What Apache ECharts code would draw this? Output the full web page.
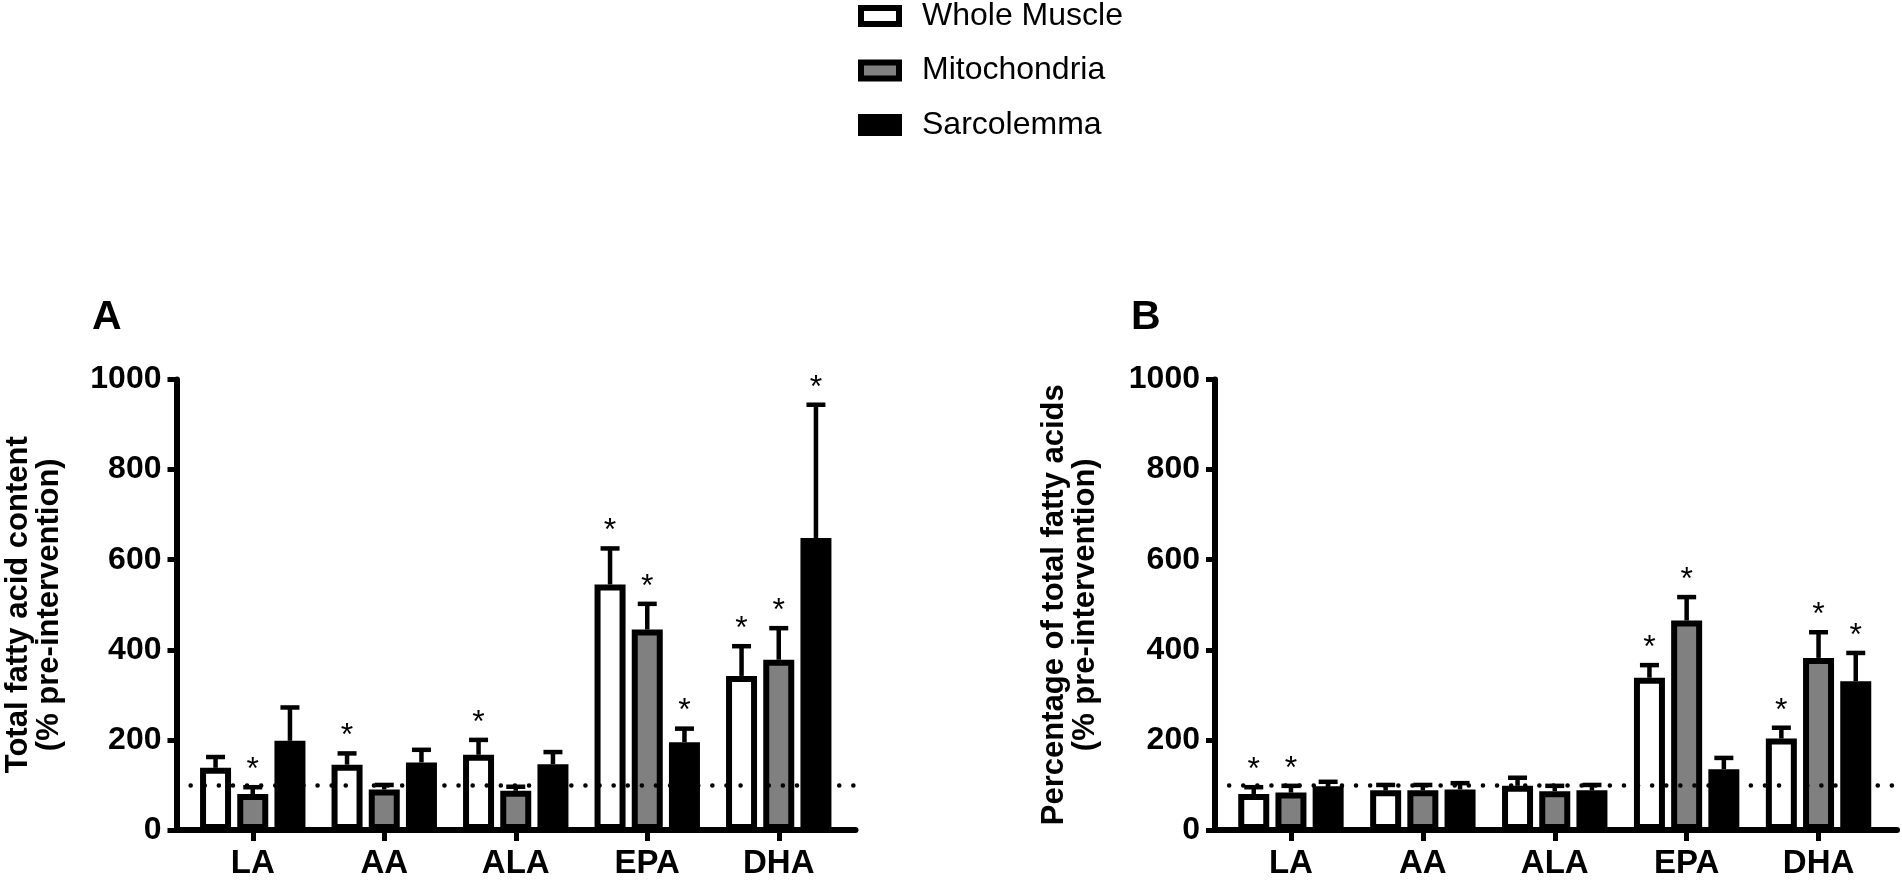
<!DOCTYPE html>
<html>
<head>
<meta charset="utf-8">
<script src="https://cdn.jsdelivr.net/npm/echarts@6.0.0/dist/echarts.min.js"></script>
<style>
  html, body { margin: 0; padding: 0; background: #fff; }
  #chart { width: 1902px; height: 888px; }
</style>
</head>
<body>
<div id="chart"></div>
<script>
var categories = ['LA', 'AA', 'ALA', 'EPA', 'DHA'];
var groupNames = ['Whole Muscle', 'Mitochondria', 'Sarcolemma'];
var yTicks = [0, 200, 400, 600, 800, 1000];
var refLine = 100;

// A: total fatty acid content (% pre-intervention)
var aWhole = [138, 145, 167, 545, 342];
var aWholeErr = [24, 25, 33, 80, 66];
var aWholeSig = [0, 1, 1, 1, 1];
var aMito = [80, 90, 87, 445, 378];
var aMitoErr = [15, 10, 9, 57, 70];
var aMitoSig = [1, 0, 0, 1, 1];
var aSarco = [198, 150, 146, 195, 648];
var aSarcoErr = [74, 28, 27, 30, 296];
var aSarcoSig = [0, 0, 0, 1, 1];

// B: percentage of total fatty acids (% pre-intervention)
var bWhole = [80, 88, 98, 338, 203];
var bWholeErr = [15, 12, 18, 28, 24];
var bWholeSig = [1, 0, 0, 1, 1];
var bMito = [83, 88, 86, 465, 382];
var bMitoErr = [15, 12, 12, 52, 57];
var bMitoSig = [1, 0, 0, 1, 1];
var bSarco = [97, 90, 88, 135, 330];
var bSarcoErr = [10, 14, 12, 25, 63];
var bSarcoSig = [0, 0, 0, 0, 1];

var FONT = '"Liberation Sans", Arial, sans-serif';
var fills = ['#ffffff', '#808080', '#000000'];
var barW = 31, barGap = 0.2;
var pitch = barW * (1 + barGap);

function barSeries(name, values, slot, axisIdx) {
	return {
		name : name,
		type : 'bar',
		xAxisIndex : axisIdx,
		yAxisIndex : axisIdx,
		barWidth : barW,
		barGap : (barGap * 100) + '%',
		itemStyle : {
			color : fills[slot],
			borderColor : '#000',
			borderWidth : 6
		},
		silent : true,
		data : values
	};
}

function errorSeries(values, errs, sig, slot, axisIdx) {
	var data = values.map(function(v, i) {
		return [i, v, errs[i], sig[i]];
	});
	return {
		type : 'custom',
		xAxisIndex : axisIdx,
		yAxisIndex : axisIdx,
		z : 3,
		silent : true,
		data : data,
		renderItem : function(params, api) {
			var base = api.coord([api.value(0), api.value(1)]);
			var top = api.coord([api.value(0), api.value(1) + api.value(2)]);
			var x = base[0] + (slot - 1) * pitch;
			var kids = [{
				type : 'line',
				shape : { x1 : x, y1 : base[1], x2 : x, y2 : top[1] },
				style : { stroke : '#000', lineWidth : 4.5 }
			}, {
				type : 'line',
				shape : { x1 : x - 9.5, y1 : top[1], x2 : x + 9.5, y2 : top[1] },
				style : { stroke : '#000', lineWidth : 4.5 }
			}];
			if (api.value(3)) {
				kids.push({
					type : 'text',
					x : x,
					y : top[1] - 17,
					style : {
						text : '*',
						fill : '#000',
						font : '32px ' + FONT,
						align : 'center',
						verticalAlign : 'middle'
					}
				});
			}
			return { type : 'group', children : kids };
		}
	};
}

// dotted 100% line across the whole frame
function refSeries(axisIdx) {
	return {
		type : 'line',
		xAxisIndex : axisIdx,
		yAxisIndex : axisIdx,
		data : [],
		silent : true,
		markLine : {
			silent : true,
			symbol : 'none',
			label : { show : false },
			lineStyle : { color : '#000', width : 4.5, type : [0.1, 14], cap : 'round' },
			data : [ { yAxis : refLine } ],
			z : 6
		}
	};
}

function barAxisX(gridIdx) {
	return {
		type : 'category',
		gridIndex : gridIdx,
		data : categories,
		axisLine : { show : false },
		axisTick : { show : true, alignWithLabel : true, length : 11, lineStyle : { color : '#000', width : 5 } },
		axisLabel : { color : '#000', fontSize : 33, fontWeight : 'bold', fontFamily : FONT, margin : 17 },
		splitLine : { show : false }
	};
}
function frameAxisX(gridIdx) {
	return {
		type : 'value',
		gridIndex : gridIdx,
		min : 0,
		max : 1,
		axisLine : { show : true, lineStyle : { color : '#000', width : 6 } },
		axisTick : { show : false },
		axisLabel : { show : false },
		splitLine : { show : false }
	};
}
function barAxisY(gridIdx) {
	return { type : 'value', gridIndex : gridIdx, min : 0, max : 1000, show : false };
}
function frameAxisY(gridIdx, title, gap) {
	return {
		type : 'value',
		gridIndex : gridIdx,
		min : yTicks[0],
		max : yTicks[yTicks.length - 1],
		interval : 200,
		name : title,
		nameLocation : 'middle',
		nameGap : gap,
		nameTextStyle : { color : '#000', fontSize : 31, fontWeight : 'bold', fontFamily : FONT, lineHeight : 31 },
		axisLine : { show : true, lineStyle : { color : '#000', width : 6 } },
		axisTick : { show : true, length : 9, lineStyle : { color : '#000', width : 5 } },
		axisLabel : {
			color : '#000', fontSize : 32, fontWeight : 'bold', fontFamily : FONT, margin : 15,
			formatter : function(v) { return String(v); }
		},
		splitLine : { show : false }
	};
}

var chart = echarts.init(document.getElementById('chart'));

var option = {
	backgroundColor : '#fff',
	animation : false,
	title : [ {
		text : 'A', left : 87, top : 292,
		textStyle : { color : '#000', fontSize : 41, fontWeight : 'bold', fontFamily : FONT }
	}, {
		text : 'B', left : 1126, top : 292,
		textStyle : { color : '#000', fontSize : 41, fontWeight : 'bold', fontFamily : FONT }
	} ],
	legend : {
		data : groupNames,
		orient : 'vertical',
		left : 858,
		top : 0,
		padding : 0,
		itemGap : 22.5,
		itemWidth : 38,
		itemHeight : 16,
		icon : 'rect',
		selectedMode : false,
		itemStyle : { borderColor : '#000', borderWidth : 6 },
		textStyle : { color : '#000', fontSize : 32, fontFamily : FONT, lineHeight : 32, padding : [0, 0, 0, 18] }
	},
	grid : [
		{ left : 187, right : 1057.5, top : 379.5, bottom : 58 },
		{ left : 176.5, right : 1046.5, top : 379.5, bottom : 58 },
		{ left : 1225, right : 17.5, top : 379.5, bottom : 58 },
		{ left : 1215, right : 5, top : 379.5, bottom : 58 }
	],
	xAxis : [ barAxisX(0), frameAxisX(1), barAxisX(2), frameAxisX(3) ],
	yAxis : [
		barAxisY(0),
		frameAxisY(1, 'Total fatty acid content\n(% pre-intervention)', 112),
		barAxisY(2),
		frameAxisY(3, 'Percentage of total fatty acids\n(% pre-intervention)', 114)
	],
	series : [
		barSeries(groupNames[0], aWhole, 0, 0),
		barSeries(groupNames[1], aMito, 1, 0),
		barSeries(groupNames[2], aSarco, 2, 0),
		barSeries(groupNames[0], bWhole, 0, 2),
		barSeries(groupNames[1], bMito, 1, 2),
		barSeries(groupNames[2], bSarco, 2, 2),
		errorSeries(aWhole, aWholeErr, aWholeSig, 0, 0),
		errorSeries(aMito, aMitoErr, aMitoSig, 1, 0),
		errorSeries(aSarco, aSarcoErr, aSarcoSig, 2, 0),
		errorSeries(bWhole, bWholeErr, bWholeSig, 0, 2),
		errorSeries(bMito, bMitoErr, bMitoSig, 1, 2),
		errorSeries(bSarco, bSarcoErr, bSarcoSig, 2, 2),
		refSeries(1),
		refSeries(3)
	]
};

chart.setOption(option);
</script>
</body>
</html>
